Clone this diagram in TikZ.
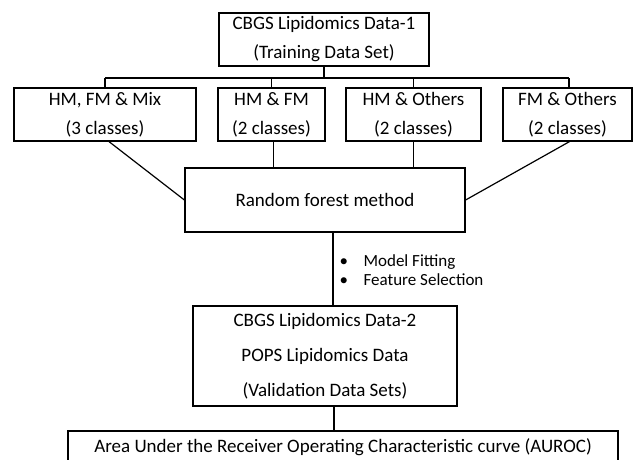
\documentclass[tikz,border=0pt]{standalone}
\usepackage{fontspec}
\setmainfont{Carlito}
\begin{document}
\begin{tikzpicture}[x=1pt,y=-1pt,line width=1.2pt,
    box/.style={draw,inner sep=0pt,align=center,font=\fontsize{19}{29}\selectfont},
    note/.style={inner sep=0pt,align=left,font=\fontsize{17}{19}\selectfont}]
            \clip (0,0) rectangle (633,459);
            \node[box,minimum width=210pt,minimum height=53pt] at (324,39.5) (train) {CBGS Lipidomics Data-1\\(Training Data Set)};
            \node[box,minimum width=182pt,minimum height=53pt] at (105,114.5) (hmfmmix) {HM, FM \& Mix\\(3 classes)};
            \node[box,minimum width=107pt,minimum height=53pt] at (271.5,114.5) (hmfm) {HM \& FM\\(2 classes)};
            \node[box,minimum width=135pt,minimum height=53pt] at (413.5,114.5) (hmoth) {HM \& Others\\(2 classes)};
            \node[box,minimum width=129pt,minimum height=53pt] at (567.5,114.5) (fmoth) {FM \& Others\\(2 classes)};
            \node[box,minimum width=280pt,minimum height=64pt] at (325,200) (rf) {Random forest method};
            \node[note,anchor=west] at (339,270.5) (steps) {\makebox[24pt][l]{\textbullet}Model Fitting\\\makebox[24pt][l]{\textbullet}Feature Selection};
            \node[box,minimum width=264pt,minimum height=100pt,font=\fontsize{19}{35}\selectfont] at (325,356) (valid) {CBGS Lipidomics Data-2\\POPS Lipidomics Data\\(Validation Data Sets)};
            \node[box,minimum width=550pt,minimum height=32pt] at (343,447) (auroc) {Area Under the Receiver Operating Characteristic curve (AUROC)};

            \coordinate (busl) at (105,78);
            \coordinate (busr) at (569,78);

            \draw (train.south) -- (train.south |- busl);
            \draw (busl) -- (busr);
            \draw (hmfmmix.north |- busl) -- (hmfmmix.north);
            \draw (hmfm.north |- busl) -- (hmfm.north);
            \draw (hmoth.north |- busl) -- (hmoth.north);
            \draw (busr) -- (busr |- fmoth.north);

            \draw ([xshift=4pt]hmfmmix.south) -- (rf.west);
            \draw ([xshift=2pt]hmfm.south) -- ([xshift=2pt]hmfm.south |- rf.north);
            \draw (hmoth.south) -- (hmoth.south |- rf.north);
            \draw ([xshift=2pt]fmoth.south) -- (rf.east);
            \draw ([xshift=8pt]rf.south) -- ([xshift=8pt]rf.south |- valid.north);
            \draw ([xshift=9pt]valid.south) -- ([xshift=9pt]valid.south |- auroc.north);
        \end{tikzpicture}
\end{document}
